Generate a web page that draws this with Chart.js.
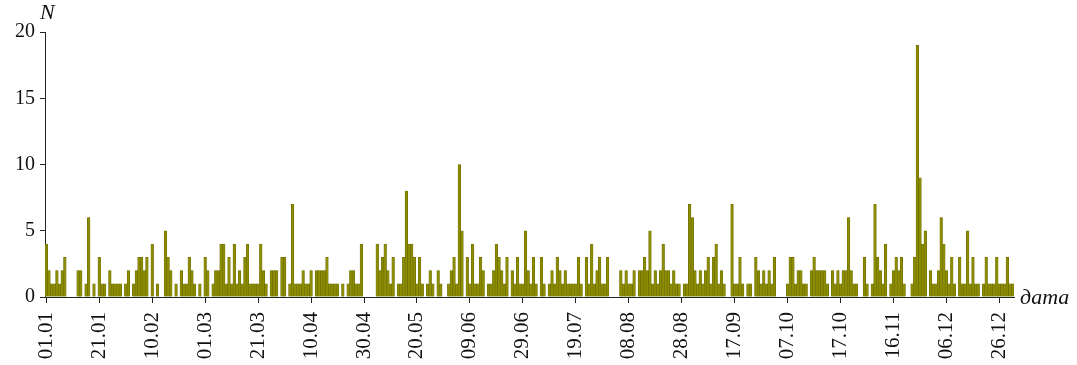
<!DOCTYPE html>
<html>
<head>
<meta charset="utf-8">
<script src="https://cdn.jsdelivr.net/npm/chart.js@4/dist/chart.umd.min.js"></script>
<style>
  html, body { margin: 0; padding: 0; background: #fff; }
  #wrap { width: 1077px; height: 365px; position: relative; }
</style>
</head>
<body>
<div id="wrap"><canvas id="c" width="1077" height="365"></canvas></div>
<script>
// Daily counts N, one array per month (leap year, 366 days)
const jan = [4,2,1,1,2,1,2,3,0,0,0,0,2,2,0,1,6,0,1,0,3,1,1,0,2,1,1,1,1,0,1];
const feb = [2,0,1,2,3,3,2,3,0,4,0,1,0,0,5,3,2,0,1,0,2,1,1,3,2,1,0,1,0];
const mar = [3,2,0,1,2,2,4,4,1,3,1,4,1,2,1,3,4,1,1,1,1,4,2,1,0,2,2,2,0,3,3];
const apr = [0,1,7,1,1,1,2,1,1,2,0,2,2,2,2,3,1,1,1,1,0,1,0,1,2,2,1,1,4,0];
const may = [0,0,0,0,4,2,3,4,2,1,3,0,1,1,3,8,4,4,3,1,3,1,0,1,2,1,0,2,1,0,0];
const jun = [1,2,3,1,10,5,0,3,1,4,1,1,3,2,0,1,1,2,4,3,2,1,3,0,2,1,3,1,1,5];
const jul = [2,1,3,1,0,3,1,0,1,2,1,3,2,1,2,1,1,1,1,3,1,0,3,1,4,1,2,3,1,1,3];
const aug = [0,0,0,0,2,1,2,1,1,2,0,2,2,3,2,5,1,2,1,2,4,2,2,1,2,1,1,0,1,1,7];
const sep = [6,2,1,2,1,2,3,1,3,4,1,2,1,0,0,7,1,1,3,1,0,1,1,0,3,2,1,2,1,2];
const oct = [1,3,0,0,0,0,1,3,3,1,2,2,1,1,0,2,3,2,2,2,2,1,0,2,1,2,1,2,2,6,2];
const nov = [1,1,0,0,3,1,0,1,7,3,2,1,4,0,1,2,3,2,3,1,0,0,1,3,19,9,4,5,0,2];
const dec = [1,1,2,6,4,2,1,3,1,0,3,1,1,5,1,3,1,1,0,1,3,1,1,1,3,1,1,1,3,1,1];
const months = [jan, feb, mar, apr, may, jun, jul, aug, sep, oct, nov, dec];

// Axis tick labels, one every 20 days
const tickLabels = ['01.01','21.01','10.02','01.03','21.03','10.04','30.04','20.05','09.06',
  '29.06','19.07','08.08','28.08','17.09','07.10','17.10','16.11','06.12','26.12'];
const tickStep = 20;
const yTicks = [0, 5, 10, 15, 20];

// Categories: one per day, labelled dd.mm
const pad = n => String(n).padStart(2, '0');
const days = [];
const counts = [];
months.forEach((m, mi) => m.forEach((v, di) => {
  days.push(pad(di + 1) + '.' + pad(mi + 1));
  counts.push(v);
}));

const FONT = '"Liberation Serif", "Times New Roman", serif';

const axisTitles = {
  id: 'axisTitles',
  afterDraw(chart) {
    const { ctx, chartArea } = chart;
    ctx.save();
    ctx.fillStyle = '#111';
    ctx.font = 'italic 22px ' + FONT;
    ctx.textBaseline = 'alphabetic';
    ctx.textAlign = 'left';
    ctx.fillText('N', chartArea.left - 5, 19);
    ctx.fillText('дата', chartArea.right + 6, chartArea.bottom + 7);
    ctx.restore();
  }
};

new Chart(document.getElementById('c'), {
  type: 'bar',
  data: {
    labels: days,
    datasets: [{
      data: counts,
      backgroundColor: '#8c8c00',
      borderColor: '#6a6a00',
      borderWidth: 0.6,
      barPercentage: 1,
      categoryPercentage: 1
    }]
  },
  options: {
    responsive: false,
    animation: false,
    events: [],
    layout: { padding: { top: 32, right: 63, left: 0, bottom: 0 } },
    plugins: { legend: { display: false }, tooltip: { enabled: false } },
    scales: {
      x: {
        offset: true,
        afterFit(s) { s.height = 68; },
        border: { display: true, color: '#222', width: 1 },
        grid: {
          offset: false,
          drawOnChartArea: false,
          drawTicks: true,
          tickLength: 6,
          tickColor: c => (c.index % tickStep === 0 ? '#222' : 'rgba(0,0,0,0)'),
          color: 'rgba(0,0,0,0)'
        },
        ticks: {
          autoSkip: false,
          maxRotation: 90,
          minRotation: 90,
          padding: 9,
          color: '#111',
          font: { family: FONT, size: 21 },
          callback: (v, i) => (i % tickStep === 0 ? tickLabels[i / tickStep] : '')
        }
      },
      y: {
        min: yTicks[0],
        max: yTicks[yTicks.length - 1],
        afterFit(s) { s.width = 45; },
        afterBuildTicks(s) { s.ticks = yTicks.map(v => ({ value: v })); },
        border: { display: true, color: '#222', width: 1 },
        grid: { drawOnChartArea: false, drawTicks: true, tickLength: 5, tickColor: '#222' },
        ticks: {
          padding: 5,
          color: '#111',
          font: { family: FONT, size: 20 }
        }
      }
    }
  },
  plugins: [axisTitles]
});
</script>
</body>
</html>
